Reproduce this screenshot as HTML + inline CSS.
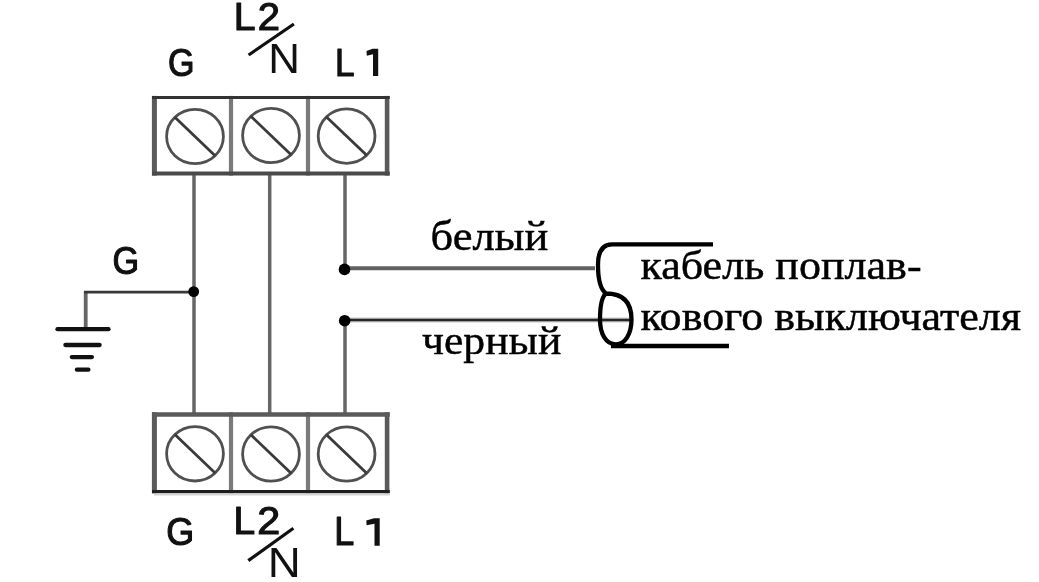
<!DOCTYPE html>
<html>
<head>
<meta charset="utf-8">
<style>
html,body{margin:0;padding:0;background:#fff;}
body{width:1039px;height:582px;overflow:hidden;position:relative;}
svg{position:absolute;left:0;top:0;filter:blur(0.6px);}
.ru{font-family:"Liberation Serif",serif;fill:#000;stroke:#000;stroke-width:0.5px;}
</style>
</head>
<body>
<svg width="1039" height="582" viewBox="0 0 1039 582">
  <g stroke="#666" stroke-width="3.5" fill="none">
    <line x1="194" y1="175" x2="194" y2="413"/>
    <line x1="269.7" y1="175" x2="269.7" y2="413"/>
    <line x1="345" y1="175" x2="345" y2="269"/>
    <line x1="345" y1="321" x2="345" y2="413"/>
    <line x1="85.7" y1="292" x2="85.7" y2="329" stroke-width="3.8"/>
  </g>
  <line x1="84" y1="292.2" x2="194" y2="292.2" stroke="#383838" stroke-width="2.8"/>
  <line x1="345" y1="268.2" x2="595" y2="268.2" stroke="#626262" stroke-width="4"/>
  <line x1="345" y1="320" x2="632" y2="320" stroke="#c8c8c8" stroke-width="5"/>
  <line x1="345" y1="320" x2="632" y2="320" stroke="#262626" stroke-width="2.6"/>
  <g stroke="#111" stroke-width="4.3" stroke-linecap="round">
    <line x1="57.5" y1="329.2" x2="108.5" y2="329.2"/>
    <line x1="65.4" y1="345" x2="99.6" y2="345"/>
    <line x1="71.8" y1="357.1" x2="91.9" y2="357.1"/>
    <line x1="76.9" y1="369.7" x2="88.4" y2="369.7"/>
  </g>
  <g fill="#000">
    <circle cx="193.7" cy="291.6" r="5.4"/>
    <circle cx="344.5" cy="269.4" r="5.8"/>
    <circle cx="344.7" cy="320.7" r="5.8"/>
  </g>
<line x1="231" y1="95.9" x2="231" y2="175.6" stroke="#7a7a7a" stroke-width="4.2"/>
<line x1="308" y1="95.9" x2="308" y2="175.6" stroke="#7a7a7a" stroke-width="4.2"/>
<line x1="154.4" y1="95.9" x2="154.4" y2="175.6" stroke="#5a5a5a" stroke-width="5"/>
<line x1="387.1" y1="95.9" x2="387.1" y2="175.6" stroke="#5a5a5a" stroke-width="4.6"/>
<line x1="152" y1="97.4" x2="389.8" y2="97.4" stroke="#333" stroke-width="3.0"/>
<line x1="152" y1="173.6" x2="389.8" y2="173.6" stroke="#4a4a4a" stroke-width="4.0"/>
<ellipse cx="195" cy="136.5" rx="28.4" ry="27.2" fill="none" stroke="#505050" stroke-width="2.8"/>
<line x1="174.9" y1="117.3" x2="215.1" y2="155.7" stroke="#3a3a3a" stroke-width="2.8"/>
<ellipse cx="271" cy="135.5" rx="28.4" ry="27.2" fill="none" stroke="#505050" stroke-width="2.8"/>
<line x1="250.9" y1="116.3" x2="291.1" y2="154.7" stroke="#3a3a3a" stroke-width="2.8"/>
<ellipse cx="346.6" cy="136.1" rx="28.4" ry="27.2" fill="none" stroke="#505050" stroke-width="2.8"/>
<line x1="326.5" y1="116.9" x2="366.7" y2="155.3" stroke="#3a3a3a" stroke-width="2.8"/>
<line x1="231" y1="412.2" x2="231" y2="493.20000000000005" stroke="#7a7a7a" stroke-width="4.2"/>
<line x1="308" y1="412.2" x2="308" y2="493.20000000000005" stroke="#7a7a7a" stroke-width="4.2"/>
<line x1="154.4" y1="412.2" x2="154.4" y2="493.20000000000005" stroke="#5a5a5a" stroke-width="5"/>
<line x1="387.1" y1="412.2" x2="387.1" y2="493.20000000000005" stroke="#5a5a5a" stroke-width="4.6"/>
<line x1="152" y1="414.5" x2="389.8" y2="414.5" stroke="#5a5a5a" stroke-width="4.6"/>
<line x1="152" y1="491.6" x2="389.8" y2="491.6" stroke="#1e1e1e" stroke-width="3.2"/>
<ellipse cx="195" cy="453.8" rx="28.4" ry="27.2" fill="none" stroke="#505050" stroke-width="2.8"/>
<line x1="174.9" y1="434.6" x2="215.1" y2="473.0" stroke="#3a3a3a" stroke-width="2.8"/>
<ellipse cx="271" cy="454" rx="28.4" ry="27.2" fill="none" stroke="#505050" stroke-width="2.8"/>
<line x1="250.9" y1="434.8" x2="291.1" y2="473.2" stroke="#3a3a3a" stroke-width="2.8"/>
<ellipse cx="346.6" cy="454" rx="28.4" ry="27.2" fill="none" stroke="#505050" stroke-width="2.8"/>
<line x1="326.5" y1="434.8" x2="366.7" y2="473.2" stroke="#3a3a3a" stroke-width="2.8"/>
  <line x1="154" y1="494.6" x2="390" y2="494.6" stroke="#d4d4d4" stroke-width="1.6"/>
  <path d="M713,244.4 L612,244.4 C602,244.4 598,252 598,265 C598,280 600,289 606,293.5 C625,293.5 631.5,304 631.5,319.5 C631.5,334 625,344.3 616,344.3 C606,344.3 600,334 600,319.5 C600,306 601.5,297 606,293.5" fill="none" stroke="#000" stroke-width="4.3" stroke-linejoin="round"/>
  <line x1="611" y1="346" x2="729" y2="346" stroke="#000" stroke-width="4.5"/>
<text transform="translate(167.94 75.52) scale(0.3412 0.3890)" x="0" y="0" style="font-family:'Liberation Sans',sans-serif;font-weight:normal;font-size:100px" fill="#111" stroke="#111" stroke-width="3" stroke-linejoin="round">G</text>
<text transform="translate(233.76 29.71) scale(0.3915 0.3873)" x="0" y="0" style="font-family:'Liberation Sans',sans-serif;font-weight:normal;font-size:100px" fill="#111" stroke="#111" stroke-width="3" stroke-linejoin="round">L</text>
<text transform="translate(257.80 29.71) scale(0.4000 0.3931)" x="0" y="0" style="font-family:'Liberation Sans',sans-serif;font-weight:normal;font-size:100px" fill="#111" stroke="#111" stroke-width="3" stroke-linejoin="round">2</text>
<text transform="translate(268.29 72.70) scale(0.4393 0.4275)" x="0" y="0" style="font-family:'Liberation Sans',sans-serif;font-weight:normal;font-size:100px" fill="#111" stroke="#111" stroke-width="0" stroke-linejoin="round">N</text>
<line x1="248.6" y1="55" x2="293.9" y2="24" stroke="#111" stroke-width="3.2"/>
<text transform="translate(335.04 75.71) scale(0.3511 0.3930)" x="0" y="0" style="font-family:'Liberation Sans',sans-serif;font-weight:normal;font-size:100px" fill="#111" stroke="#111" stroke-width="3" stroke-linejoin="round">L</text>
<path d="M366.5,51.0 L372.5,48.8 L378.2,48.8 L378.2,76.1 L373.0,76.1 L373.0,54.2 L366.8,55.8 Z" fill="#111"/>
<text transform="translate(166.16 545.03) scale(0.3588 0.3863)" x="0" y="0" style="font-family:'Liberation Sans',sans-serif;font-weight:normal;font-size:100px" fill="#111" stroke="#111" stroke-width="3" stroke-linejoin="round">G</text>
<text transform="translate(233.57 534.10) scale(0.3894 0.3972)" x="0" y="0" style="font-family:'Liberation Sans',sans-serif;font-weight:normal;font-size:100px" fill="#111" stroke="#111" stroke-width="3" stroke-linejoin="round">L</text>
<text transform="translate(257.15 534.11) scale(0.4125 0.3917)" x="0" y="0" style="font-family:'Liberation Sans',sans-serif;font-weight:normal;font-size:100px" fill="#111" stroke="#111" stroke-width="3" stroke-linejoin="round">2</text>
<text transform="translate(267.74 576.60) scale(0.4571 0.4290)" x="0" y="0" style="font-family:'Liberation Sans',sans-serif;font-weight:normal;font-size:100px" fill="#111" stroke="#111" stroke-width="0" stroke-linejoin="round">N</text>
<line x1="248.3" y1="560.6" x2="293.4" y2="528.2" stroke="#111" stroke-width="3.2"/>
<text transform="translate(334.28 545.40) scale(0.3596 0.3972)" x="0" y="0" style="font-family:'Liberation Sans',sans-serif;font-weight:normal;font-size:100px" fill="#111" stroke="#111" stroke-width="3" stroke-linejoin="round">L</text>
<path d="M366.3,520.5 L374.0,518.3 L379.7,518.3 L379.7,545.8 L374.5,545.8 L374.5,523.7 L366.6,525.3 Z" fill="#111"/>
<text transform="translate(112.43 274.14) scale(0.3426 0.3795)" x="0" y="0" style="font-family:'Liberation Sans',sans-serif;font-weight:normal;font-size:100px" fill="#111" stroke="#111" stroke-width="3" stroke-linejoin="round">G</text>
<text class="ru" x="430.6" y="250.0" font-size="44.5" transform="translate(0 250.0) scale(1 0.93) translate(0 -250.0)">белый</text>
<text class="ru" x="422" y="354.2" font-size="43.7" transform="translate(0 354.2) scale(1 0.93) translate(0 -354.2)">черный</text>
<text class="ru" x="640.4" y="279.4" font-size="44.1" transform="translate(0 279.4) scale(1 0.93) translate(0 -279.4)">кабель поплав-</text>
<text class="ru" x="640.4" y="329.6" font-size="44.1" transform="translate(0 329.6) scale(1 0.93) translate(0 -329.6)">кового выключателя</text>
</svg>
</body>
</html>
